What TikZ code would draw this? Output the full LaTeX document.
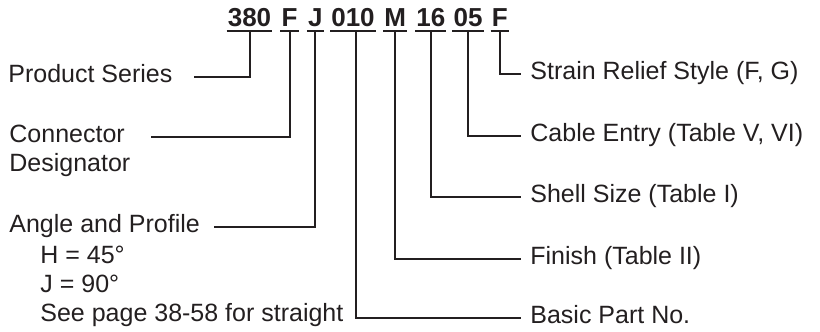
\documentclass[tikz,border=0pt]{standalone}
\usepackage{fontspec}
\setmainfont{Liberation Sans}
\definecolor{ink}{RGB}{35,31,32}
\begin{document}
\begin{tikzpicture}[x=0.5pt,y=-0.5pt]
\tikzset{
  lbl/.style={inner sep=0pt, anchor=base west, font=\fontsize{12.5}{15}\selectfont, text=ink},
  code/.style={inner xsep=0.4pt, inner ysep=0pt, anchor=base, font=\fontsize{13}{15}\selectfont\bfseries, text=ink},
  lead/.style={draw=ink, line width=1pt},
}
\useasboundingbox (0,0) rectangle (820,332);

% part number code
\node[code] (c1) at (249.5,26) {380};
\node[code] (c2) at (289.5,26) {F};
\node[code] (c3) at (315.3,26) {J};
\node[code] (c4) at (353,26) {010};
\node[code] (c5) at (395.2,26) {M};
\node[code] (c6) at (430.8,26) {16};
\node[code] (c7) at (468,26) {05};
\node[code] (c8) at (499.7,26) {F};

\foreach \n in {c1,c2,c3,c4,c5,c6,c7,c8}{
  \draw[lead] ([yshift=-2.5pt]\n.base west) -- ([yshift=-2.5pt]\n.base east);
}
\coordinate (uc1) at ([yshift=-2.5pt]c1.base);
\coordinate (uc2) at ([yshift=-2.5pt]c2.base);
\coordinate (uc3) at ([yshift=-2.5pt]c3.base);
\coordinate (uc4) at ([yshift=-2.5pt,xshift=1.3pt]c4.base);
\coordinate (uc5) at ([yshift=-2.5pt]c5.base);
\coordinate (uc6) at ([yshift=-2.5pt]c6.base);
\coordinate (uc7) at ([yshift=-2.5pt]c7.base);
\coordinate (uc8) at ([yshift=-2.5pt]c8.base);

% left labels
\node[lbl] (ps)  at (8,82)     {Product Series};
\node[lbl] (cd1) at (9,142.7)  {Connector};
\node[lbl] (cd2) at (9,171.7)  {Designator};
\node[lbl] (ap)  at (9,232.7)  {Angle and Profile};
\node[lbl] (ap1) at (40,263.3) {H = 45°};
\node[lbl] (ap2) at (40,292.7) {J = 90°};
\node[lbl] (ap3) at (40,321.7) {See page 38-58 for straight};

% right labels
\node[lbl] (sr) at (530,79)    {Strain Relief Style (F, G)};
\node[lbl] (ce) at (530,141)   {Cable Entry (Table V, VI)};
\node[lbl] (ss) at (530,202.7) {Shell Size (Table I)};
\node[lbl] (fi) at (530,264)   {Finish (Table II)};
\node[lbl] (bp) at (530,323.4) {Basic Part No.};

% leaders
\draw[lead] (uc1) |- ([xshift=10.5pt]ps.mid east);
\draw[lead] (uc2) |- ([xshift=13pt]cd1.mid east);
\draw[lead] (uc3) |- ([xshift=7pt]ap.mid east);
\draw[lead] (uc4) |- ([xshift=-4.5pt]bp.mid west);
\draw[lead] (uc5) |- ([xshift=-4.5pt]fi.mid west);
\draw[lead] (uc6) |- ([xshift=-4.5pt]ss.mid west);
\draw[lead] (uc7) |- ([xshift=-4.5pt]ce.mid west);
\draw[lead] (uc8) |- ([xshift=-4.5pt]sr.mid west);
\end{tikzpicture}
\end{document}
